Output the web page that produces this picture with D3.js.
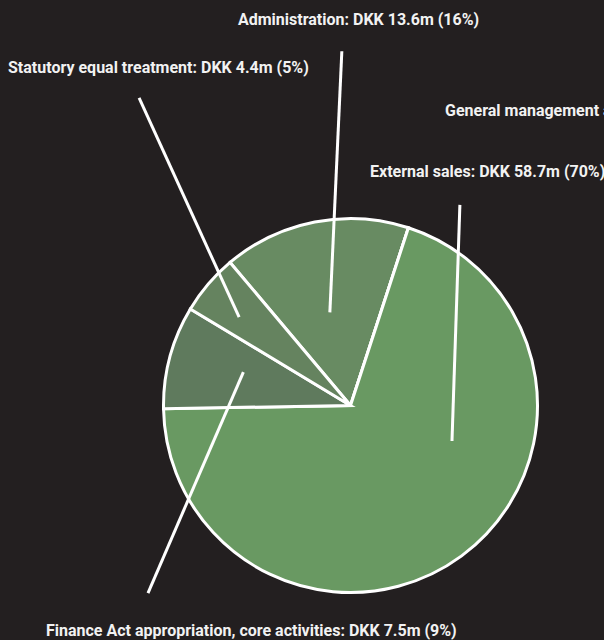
<!DOCTYPE html>
<html>
<head>
<meta charset="utf-8">
<script src="https://cdn.jsdelivr.net/npm/d3@7"></script>
<style>
  html, body { margin: 0; padding: 0; background: #231f20; overflow: hidden; }
  #chart text { font-family: Roboto, "Noto Sans", sans-serif; font-weight: 700; font-size: 16px; fill: #f2f2f2; }
</style>
</head>
<body>
<div id="chart"></div>
<script>
// data, clockwise from the top-left edge of Administration
const categories = [
  'Administration',
  'General management and administration',
  'External sales',
  'Finance Act appropriation, core activities',
  'Statutory equal treatment',
]
const amounts = [13.6, 0, 58.7, 7.5, 4.4]   // DKK million
const colors = ['#688b62', '#688b62', '#699962', '#5f7a5d', '#65835f']

// callout layout: polar points relative to the pie (degrees, radius units)
const calloutInner = [[-12.5, 0.51], null, [109.3, 0.575], [-72.7, 0.60], [-51.6, 0.76]]
const calloutOuter = [[-1.4, 1.895], null, [28.6, 1.222], [-132.8, 1.476], [-34.5, 1.996]]
const labelPos = [[238, 25], [445, 116], [370, 177], [46, 636], [8, 73]]

const width = 604
const height = 640
const cx = 350.5
const cy = 405.5
const radius = 187

const total = d3.sum(amounts)
const data = categories.map((name, i) => ({
  name,
  value: amounts[i],
  color: colors[i],
  inner: calloutInner[i],
  outer: calloutOuter[i],
  label: labelPos[i],
}))

const svg = d3.select('#chart')
  .append('svg')
  .attr('width', width)
  .attr('height', height)

const pie = d3.pie()
  .sort(null)
  .value((d) => d.value)
  .startAngle(-40.1 * Math.PI / 180)
  .endAngle((360 - 40.1) * Math.PI / 180)

const arc = d3.arc().innerRadius(0).outerRadius(radius)

const g = svg.append('g').attr('transform', `translate(${cx},${cy})`)

g.selectAll('.slice')
  .data(pie(data))
  .enter()
  .append('path')
  .attr('class', 'slice')
  .attr('d', arc)
  .style('fill', (d) => d.data.color)
  .style('stroke', '#ffffff')
  .style('stroke-width', 3)
  .style('stroke-linejoin', 'miter')

const polar = ([deg, r]) => d3.pointRadial(deg * Math.PI / 180, r * radius)

g.selectAll('.callout')
  .data(data.filter((d) => d.inner))
  .enter()
  .append('line')
  .attr('class', 'callout')
  .attr('x1', (d) => polar(d.inner)[0])
  .attr('y1', (d) => polar(d.inner)[1])
  .attr('x2', (d) => polar(d.outer)[0])
  .attr('y2', (d) => polar(d.outer)[1])
  .style('stroke', '#ffffff')
  .style('stroke-width', 3)

const fmt = (d) => {
  const pct = Math.round(d.value / total * 100)
  return `${d.name}: DKK ${d.value.toFixed(1)}m (${pct}%)`
}

svg.selectAll('.label')
  .data(data)
  .enter()
  .append('text')
  .attr('class', 'label')
  .attr('x', (d) => d.label[0])
  .attr('y', (d) => d.label[1])
  .text(fmt)
</script>
</body>
</html>
